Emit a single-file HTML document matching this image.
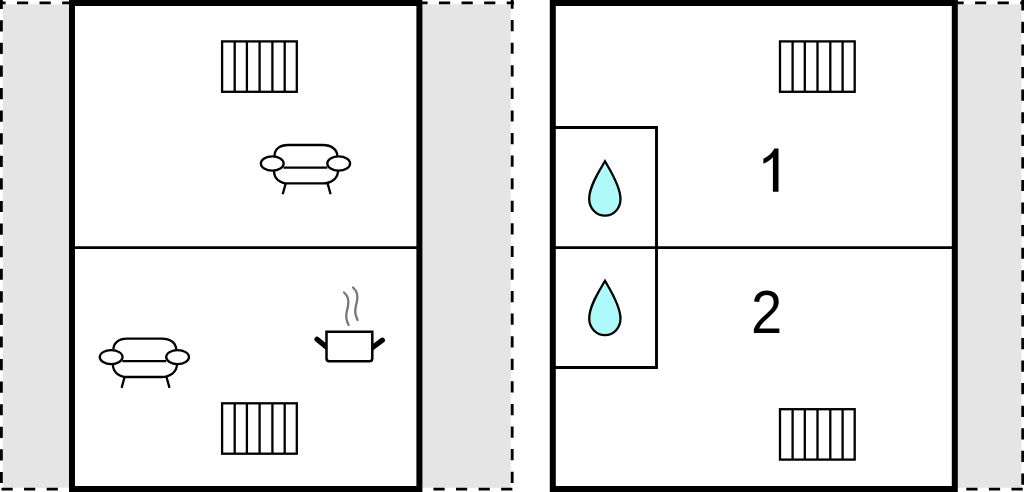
<!DOCTYPE html>
<html><head><meta charset="utf-8">
<style>html,body{margin:0;padding:0;background:#fff;width:1024px;height:492px;overflow:hidden}svg{display:block}</style>
</head><body>
<svg width="1024" height="492" viewBox="0 0 1024 492" xmlns="http://www.w3.org/2000/svg">
<defs>
<g id="rad" fill="none" stroke="#000" stroke-width="2.3">
<rect x="0" y="0" width="74.7" height="50.4"/>
<path d="M12.6 0V50.4M24.8 0V50.4M37.5 0V50.4M50.3 0V50.4M62.6 0V50.4"/>
</g>
<g id="sofa" fill="none" stroke="#000" stroke-width="2.3">
<path d="M274.5 156C274.5 149.2 280 145 288 145L323 145C331 145 337.3 149.2 337.3 156"/>
<path d="M283.5 167.6L327.3 167.6"/>
<path d="M274 171C274 178.5 280 183.4 288 183.4L323 183.4C331 183.4 338 178.5 338 171"/>
<path d="M285.7 183.4L282.7 194.3M327.6 183.4L330.6 194.3"/>
<ellipse cx="272.25" cy="163.5" rx="11.4" ry="7.05" fill="#fff"/>
<ellipse cx="338.7" cy="163.5" rx="11.4" ry="7.05" fill="#fff"/>
</g>
<path id="drop" d="M605 161.3C600 170 589.2 186 589.2 199C589.2 208 596 215.6 605 215.6C614 215.6 620.5 208 620.5 199C620.5 186 610 170 605 161.3Z" fill="#aefafa" stroke="#000" stroke-width="2.3"/>
</defs>
<!-- gray regions -->
<rect x="2.8" y="4.3" width="508" height="483.5" fill="#e5e5e5"/>
<rect x="957" y="4.3" width="64.5" height="483.5" fill="#e5e5e5"/>
<!-- dashed borders -->
<g fill="none" stroke="#000" stroke-width="2.8" stroke-dasharray="11.2 11.38">
<path d="M0 2.9H72" stroke-dashoffset="5.6"/>
<path d="M422 2.9H514" stroke-dashoffset="5.6"/>
<path d="M0 489.1H72" stroke-dashoffset="-1.5"/>
<path d="M422 489.1H514" stroke-dashoffset="11.15"/>
<path d="M1.4 0V492" stroke-dashoffset="2.3"/>
<path d="M512.2 0V492" stroke-dashoffset="2.5"/>
<path d="M950 2.9H1024" stroke-dashoffset="20.1"/>
<path d="M950 489.1H1024" stroke-dashoffset="6.25"/>
<path d="M1022.7 0V492" stroke-dashoffset="0.75"/>
</g>
<!-- walls -->
<g fill="none" stroke="#000">
<rect x="72" y="3" width="347.4" height="486" stroke-width="6" fill="#fff"/>
<rect x="552.8" y="3" width="402" height="486" stroke-width="6" fill="#fff"/>
<path d="M72 247.6H419.4M552.8 247.6H954.8" stroke-width="2.7"/>
<path d="M552.8 127.5H656.5V367.5H552.8" stroke-width="2.9"/>
</g>
<use href="#rad" x="222.1" y="41.4"/>
<use href="#rad" x="222.1" y="403.3"/>
<use href="#rad" x="780" y="41.4"/>
<use href="#rad" x="780" y="409.2"/>
<use href="#sofa"/>
<use href="#sofa" x="-161.1" y="193.6"/>
<use href="#drop"/>
<use href="#drop" y="119.5"/>
<!-- pot -->
<g stroke="#000">
<path d="M317 339.3L327 347.6M382.4 340.2L372 347.8" stroke-width="5.2" stroke-linecap="round" fill="none"/>
<path d="M326.5 331.7H372.3V358.6Q372.3 361.3 369.6 361.3H329.2Q326.5 361.3 326.5 358.6Z" stroke-width="2.5" fill="#fff"/>
</g>
<g fill="none" stroke="#767676" stroke-width="2.3" stroke-linecap="round">
<path d="M344 292.5C348 296 349 301 348 306C347 311 345.5 315 346.5 319C347 321.5 348 323.5 348.5 325"/>
<path d="M353 287.5C357 291 358 296 357 301C356 306 354.5 310 355.5 314C356 316.5 357 318.5 357.5 320"/>
</g>
<!-- numbers -->
<path d="M772.9 191.7H778.5V148.4H774.5C772 153 767.5 156.8 763.4 158.8V163.8C767 162.3 770.5 160 772.9 157.2Z" fill="#000"/>
<text x="0" y="0" font-family="Liberation Sans" font-size="61.6" transform="translate(750.9 332.7) scale(0.91 1)">2</text>
</svg>
</body></html>
